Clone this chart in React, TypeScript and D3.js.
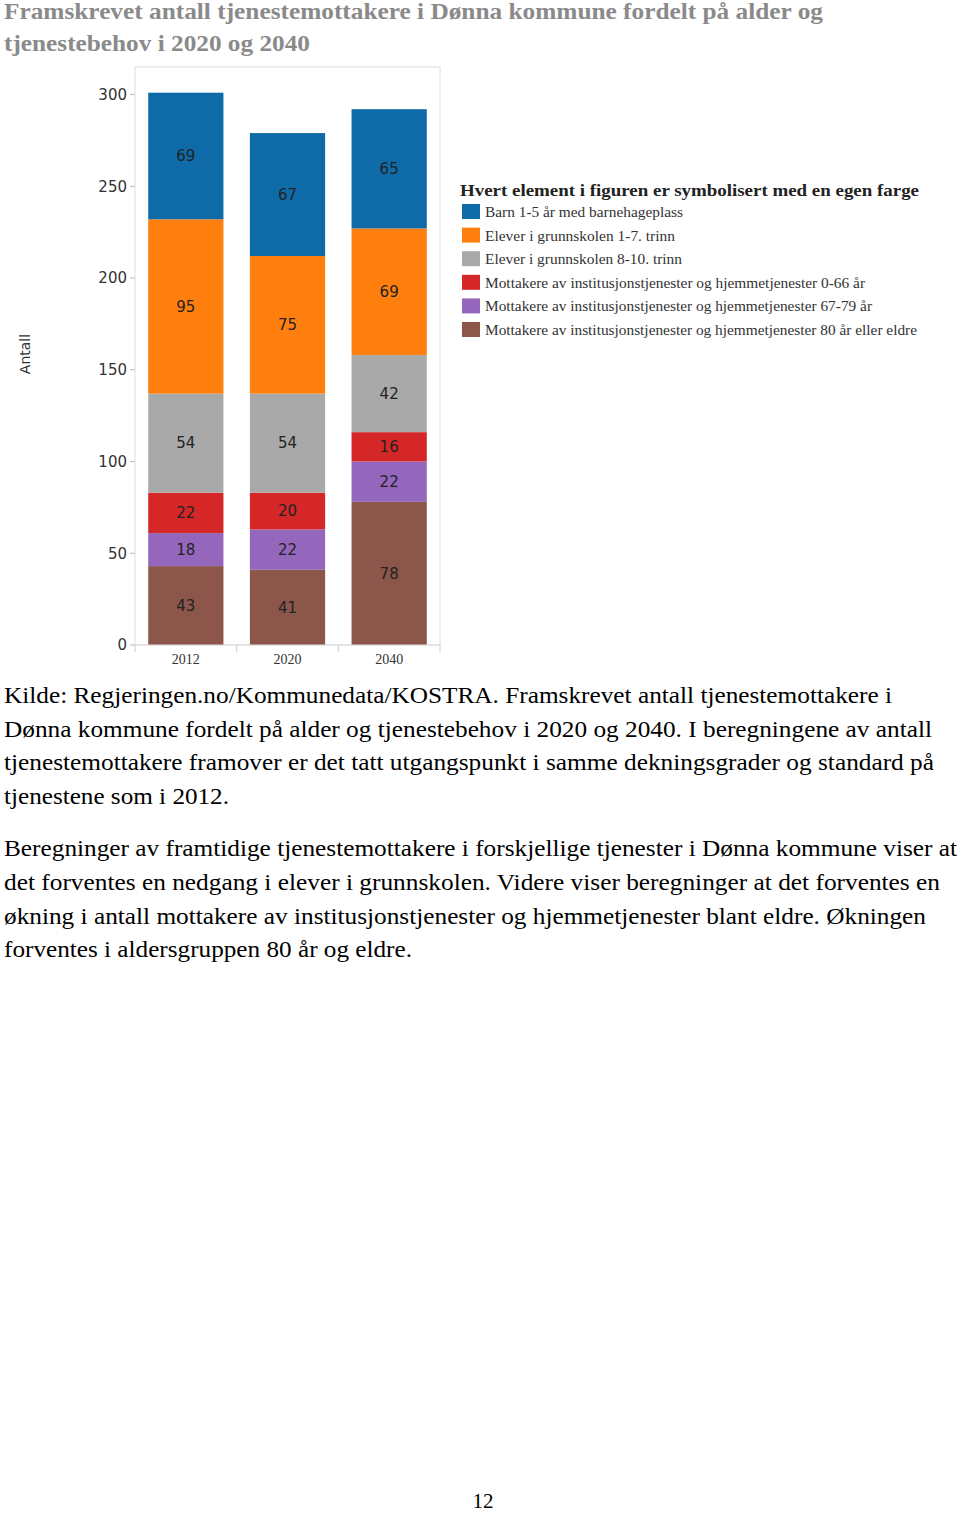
import React from "react";
import * as d3 from "d3";

const years = ["2012", "2020", "2040"];
const mott80 = [43, 41, 78];
const mott6779 = [18, 22, 22];
const mott066 = [22, 20, 16];
const elever810 = [54, 54, 42];
const elever17 = [95, 75, 69];
const barn = [69, 67, 65];
const yTicks = [0, 50, 100, 150, 200, 250, 300];

const seriesKeys = ["mott80", "mott6779", "mott066", "elever810", "elever17", "barn"];
const seriesColors = ["#8c564b", "#9467bd", "#d62728", "#a9a9a9", "#ff7f0e", "#0f6ba8"];

const legendTitle = "Hvert element i figuren er symbolisert med en egen farge";
const legendLabels = [
  "Barn 1-5 år med barnehageplass",
  "Elever i grunnskolen 1-7. trinn",
  "Elever i grunnskolen 8-10. trinn",
  "Mottakere av institusjonstjenester og hjemmetjenester 0-66 år",
  "Mottakere av institusjonstjenester og hjemmetjenester 67-79 år",
  "Mottakere av institusjonstjenester og hjemmetjenester 80 år eller eldre",
];
const legendColors = ["#0f6ba8", "#ff7f0e", "#a9a9a9", "#d62728", "#9467bd", "#8c564b"];
const legendWidths = [198, 190, 197, 380, 387, 432];

const titleLines = [
  "Framskrevet antall tjenestemottakere i Dønna kommune fordelt på alder og",
  "tjenestebehov i 2020 og 2040",
];
const titleWidths = [819, 306];

const para1 = [
  "Kilde: Regjeringen.no/Kommunedata/KOSTRA. Framskrevet antall tjenestemottakere i",
  "Dønna kommune fordelt på alder og tjenestebehov i 2020 og 2040. I beregningene av antall",
  "tjenestemottakere framover er det tatt utgangspunkt i samme dekningsgrader og standard på",
  "tjenestene som i 2012.",
];
const para1Widths = [888, 928, 930, 225];
const para2 = [
  "Beregninger av framtidige tjenestemottakere i forskjellige tjenester i Dønna kommune viser at",
  "det forventes en nedgang i elever i grunnskolen. Videre viser beregninger at det forventes en",
  "økning i antall mottakere av institusjonstjenester og hjemmetjenester blant eldre. Økningen",
  "forventes i aldersgruppen 80 år og eldre.",
];
const para2Widths = [953, 936, 922, 408];

export default function App() {
  const rows = years.map((y, i) => ({
    year: y,
    mott80: mott80[i],
    mott6779: mott6779[i],
    mott066: mott066[i],
    elever810: elever810[i],
    elever17: elever17[i],
    barn: barn[i],
  }));
  const stacked = d3.stack<any>().keys(seriesKeys)(rows);

  const x = d3.scaleBand().domain(years).range([135, 440]).paddingInner(0.26).paddingOuter(0.13);
  const y = d3.scaleLinear().domain([0, 315]).range([645, 67]);

  const serif = "'Liberation Serif', 'Times New Roman', serif";
  const sans = "'DejaVu Sans', Verdana, sans-serif";

  const boundaries = [135, ...years.map((yr) => (x(yr) as number) + x.bandwidth() + (x.step() - x.bandwidth()) / 2)];

  return (
    <svg
      width={960}
      height={1515}
      style={{ position: "absolute", left: 0, top: 0, background: "#fff" }}
    >
      {/* title */}
      {titleLines.map((t, i) => (
        <text
          key={i}
          x={4}
          y={19 + i * 32}
          fontFamily={serif}
          fontWeight="bold"
          fontSize={22.5}
          fill="#8a8a8a"
          textLength={titleWidths[i]}
          lengthAdjust="spacingAndGlyphs"
        >
          {t}
        </text>
      ))}

      {/* plot frame */}
      <rect x={135} y={67} width={305} height={578} fill="none" stroke="#dddddd" strokeWidth={1} />

      {/* y axis ticks */}
      {yTicks.map((t) => (
        <g key={t}>
          <line x1={130} x2={135} y1={y(t)} y2={y(t)} stroke="#bbbbbb" />
          <text
            x={127}
            y={y(t)}
            dy="0.35em"
            textAnchor="end"
            fontFamily={sans}
            fontSize={15}
            fill="#333"
          >
            {t}
          </text>
        </g>
      ))}
      <text
        transform={`translate(30,354) rotate(-90)`}
        textAnchor="middle"
        fontFamily={sans}
        fontSize={14}
        fill="#333"
      >
        Antall
      </text>

      {/* bars */}
      {stacked.map((s, si) => (
        <g key={s.key}>
          {s.map((d: any, i: number) => {
            const y0 = y(d[0]);
            const y1 = y(d[1]);
            return (
              <g key={i}>
                <rect
                  x={x(years[i]) as number}
                  y={y1}
                  width={x.bandwidth()}
                  height={y0 - y1}
                  fill={seriesColors[si]}
                />
                <text
                  x={(x(years[i]) as number) + x.bandwidth() / 2}
                  y={(y0 + y1) / 2}
                  dy="0.35em"
                  textAnchor="middle"
                  fontFamily={sans}
                  fontSize={15}
                  fill="#222"
                >
                  {d[1] - d[0]}
                </text>
              </g>
            );
          })}
        </g>
      ))}

      {/* x axis */}
      <line x1={135} x2={440} y1={645} y2={645} stroke="#dddddd" />
      {boundaries.map((b, i) => (
        <line key={i} x1={b} x2={b} y1={645} y2={652} stroke="#cccccc" />
      ))}
      {years.map((yr) => (
        <text
          key={yr}
          x={(x(yr) as number) + x.bandwidth() / 2}
          y={664}
          textAnchor="middle"
          fontFamily={serif}
          fontSize={14}
          fill="#333"
        >
          {yr}
        </text>
      ))}

      {/* legend */}
      <text
        x={460}
        y={196}
        fontFamily={serif}
        fontWeight="bold"
        fontSize={17}
        fill="#222"
        textLength={459}
        lengthAdjust="spacingAndGlyphs"
      >
        {legendTitle}
      </text>
      {legendLabels.map((l, i) => (
        <g key={i}>
          <rect x={462} y={204 + i * 23.6} width={18} height={15} fill={legendColors[i]} />
          <text
            x={485}
            y={217 + i * 23.6}
            fontFamily={serif}
            fontSize={14.5}
            fill="#333"
            textLength={legendWidths[i]}
            lengthAdjust="spacingAndGlyphs"
          >
            {l}
          </text>
        </g>
      ))}

      {/* body text */}
      {para1.map((t, i) => (
        <text
          key={"p1" + i}
          x={4}
          y={703 + i * 33.5}
          fontFamily={serif}
          fontSize={23.5}
          fill="#000"
          textLength={para1Widths[i]}
          lengthAdjust="spacingAndGlyphs"
        >
          {t}
        </text>
      ))}
      {para2.map((t, i) => (
        <text
          key={"p2" + i}
          x={4}
          y={856 + i * 33.8}
          fontFamily={serif}
          fontSize={23.5}
          fill="#000"
          textLength={para2Widths[i]}
          lengthAdjust="spacingAndGlyphs"
        >
          {t}
        </text>
      ))}

      <text x={483} y={1508} textAnchor="middle" fontFamily={serif} fontSize={21} fill="#000">
        12
      </text>
    </svg>
  );
}
